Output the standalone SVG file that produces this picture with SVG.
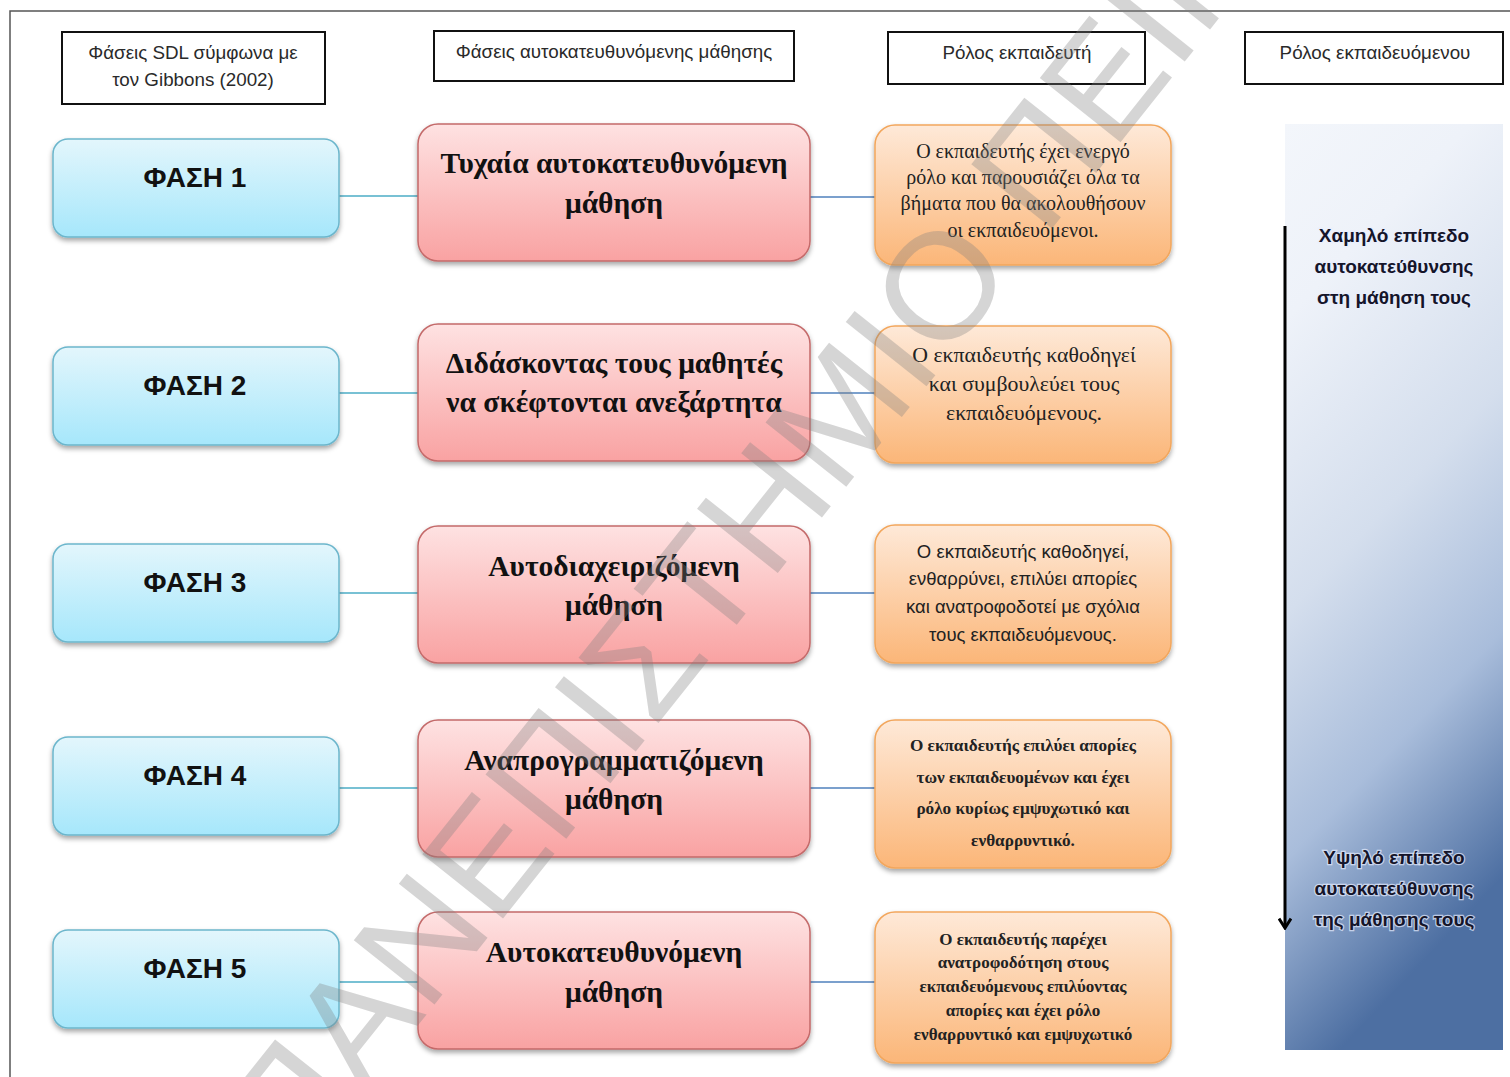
<svg xmlns="http://www.w3.org/2000/svg" width="1510" height="1077" viewBox="0 0 1510 1077">
<style>
.hdr{fill:#fff;stroke:#111;stroke-width:2}
.htx{font-family:"Liberation Sans",Arial,sans-serif;font-size:18.8px;fill:#2a2a2a;text-anchor:middle}
.blue{fill:url(#gB);stroke:#6cb6cc;stroke-width:1.5}
.red{fill:url(#gR);stroke:#c46a6a;stroke-width:1.5}
.org{fill:url(#gO);stroke:#f2a65c;stroke-width:1.5}
.ftx{font-family:"Liberation Sans",Arial,sans-serif;font-weight:bold;font-size:28px;fill:#111;text-anchor:middle}
.rtx{font-family:"Liberation Serif","Times New Roman",serif;font-weight:bold;font-size:29.5px;fill:#111;text-anchor:middle}
.os{font-family:"Liberation Serif","Times New Roman",serif;fill:#222;text-anchor:middle}
.oa{font-family:"Liberation Sans",Arial,sans-serif;fill:#222;text-anchor:middle}
.ptx{font-family:"Liberation Sans",Arial,sans-serif;font-weight:bold;font-size:19px;fill:#15152a;text-anchor:middle;stroke:#e8eeff;stroke-width:2.5;stroke-opacity:0.7;paint-order:stroke}
.c1{stroke:#4bacc6;stroke-width:1.5;fill:none}
.c2{stroke:#4f81bd;stroke-width:1.5;fill:none}
</style>
<defs>
<linearGradient id="gB" x1="0" y1="0" x2="0" y2="1"><stop offset="0" stop-color="#e3f6fc"/><stop offset="1" stop-color="#a6e7fb"/></linearGradient>
<linearGradient id="gR" x1="0" y1="0" x2="0" y2="1"><stop offset="0" stop-color="#fee2e2"/><stop offset="1" stop-color="#f9a2a2"/></linearGradient>
<linearGradient id="gO" x1="0" y1="0" x2="0" y2="1"><stop offset="0" stop-color="#fee9d8"/><stop offset="1" stop-color="#fbb678"/></linearGradient>
<linearGradient id="gP" x1="0" y1="0" x2="0.25" y2="1"><stop offset="0" stop-color="#f3f6fb"/><stop offset="0.2" stop-color="#eef2f9"/><stop offset="0.5" stop-color="#d4deed"/><stop offset="0.75" stop-color="#a9bddb"/><stop offset="1" stop-color="#4d6fa2"/></linearGradient>
<filter id="sh" x="-10%" y="-10%" width="120%" height="130%"><feDropShadow dx="0" dy="3" stdDeviation="2.5" flood-color="#000" flood-opacity="0.35"/></filter>
<marker id="ah" viewBox="0 0 13 14" refX="11" refY="7" markerWidth="13" markerHeight="14" markerUnits="userSpaceOnUse" orient="auto"><path d="M1.5,1 L11,7 L1.5,13" fill="none" stroke="#000" stroke-width="3" stroke-linejoin="miter"/></marker>
</defs>

<rect width="1510" height="1077" fill="#fff"/>
<path d="M10,1077 V11 H1510" fill="none" stroke="#555" stroke-width="1.5"/>

<!-- right panel -->
<g id="panel">
<rect x="1285" y="124" width="218" height="926" fill="url(#gP)"/>
<text class="ptx" x="1394" y="242">Χαμηλό επίπεδο</text>
<text class="ptx" x="1394" y="273">αυτοκατεύθυνσης</text>
<text class="ptx" x="1394" y="304">στη μάθηση τους</text>
<text class="ptx" x="1394" y="864">Υψηλό επίπεδο</text>
<text class="ptx" x="1394" y="895">αυτοκατεύθυνσης</text>
<text class="ptx" x="1394" y="926">της μάθησης τους</text>
</g>

<!-- headers -->
<g id="h1"><rect class="hdr" x="62" y="32" width="263" height="72"/><text class="htx" x="193" y="59">Φάσεις SDL σύμφωνα με</text><text class="htx" x="193" y="86">τον Gibbons (2002)</text></g>
<g id="h2"><rect class="hdr" x="434" y="31" width="360" height="50"/><text class="htx" x="614" y="58">Φάσεις αυτοκατευθυνόμενης μάθησης</text></g>
<g id="h3"><rect class="hdr" x="888" y="32" width="257" height="52"/><text class="htx" x="1017" y="59">Ρόλος εκπαιδευτή</text></g>
<g id="h4"><rect class="hdr" x="1245" y="32" width="258" height="52"/><text class="htx" x="1375" y="59">Ρόλος εκπαιδευόμενου</text></g>

<!-- connectors -->
<g id="connectors">
<line class="c1" x1="339" y1="196" x2="418" y2="196"/>
<line class="c2" x1="810" y1="197" x2="875" y2="197"/>
<line class="c1" x1="339" y1="393" x2="418" y2="393"/>
<line class="c2" x1="810" y1="393" x2="875" y2="393"/>
<line class="c1" x1="339" y1="593" x2="418" y2="593"/>
<line class="c2" x1="810" y1="593" x2="875" y2="593"/>
<line class="c1" x1="339" y1="788" x2="418" y2="788"/>
<line class="c2" x1="810" y1="788" x2="875" y2="788"/>
<line class="c1" x1="339" y1="982" x2="418" y2="982"/>
<line class="c2" x1="810" y1="982" x2="875" y2="982"/>
<line x1="1285" y1="226" x2="1285" y2="928" stroke="#000" stroke-width="3" marker-end="url(#ah)"/>
</g>

<!-- phase boxes -->
<g id="p1"><rect class="blue" filter="url(#sh)" x="53" y="139" width="286" height="98" rx="15"/><text class="ftx" x="195" y="187">ΦΑΣΗ 1</text></g>
<g id="p2"><rect class="blue" filter="url(#sh)" x="53" y="347" width="286" height="98" rx="15"/><text class="ftx" x="195" y="395">ΦΑΣΗ 2</text></g>
<g id="p3"><rect class="blue" filter="url(#sh)" x="53" y="544" width="286" height="98" rx="15"/><text class="ftx" x="195" y="592">ΦΑΣΗ 3</text></g>
<g id="p4"><rect class="blue" filter="url(#sh)" x="53" y="737" width="286" height="98" rx="15"/><text class="ftx" x="195" y="785">ΦΑΣΗ 4</text></g>
<g id="p5"><rect class="blue" filter="url(#sh)" x="53" y="930" width="286" height="98" rx="15"/><text class="ftx" x="195" y="978">ΦΑΣΗ 5</text></g>

<!-- learning phase boxes -->
<g id="s1"><rect class="red" filter="url(#sh)" x="418" y="124" width="392" height="137" rx="20"/><text class="rtx" x="614" y="173">Τυχαία αυτοκατευθυνόμενη</text><text class="rtx" x="614" y="213">μάθηση</text></g>
<g id="s2"><rect class="red" filter="url(#sh)" x="418" y="324" width="392" height="137" rx="20"/><text class="rtx" x="614" y="373">Διδάσκοντας τους μαθητές</text><text class="rtx" x="614" y="412">να σκέφτονται ανεξάρτητα</text></g>
<g id="s3"><rect class="red" filter="url(#sh)" x="418" y="526" width="392" height="137" rx="20"/><text class="rtx" x="614" y="576">Αυτοδιαχειριζόμενη</text><text class="rtx" x="614" y="615">μάθηση</text></g>
<g id="s4"><rect class="red" filter="url(#sh)" x="418" y="720" width="392" height="137" rx="20"/><text class="rtx" x="614" y="770">Αναπρογραμματιζόμενη</text><text class="rtx" x="614" y="809">μάθηση</text></g>
<g id="s5"><rect class="red" filter="url(#sh)" x="418" y="912" width="392" height="137" rx="20"/><text class="rtx" x="614" y="962">Αυτοκατευθυνόμενη</text><text class="rtx" x="614" y="1002">μάθηση</text></g>

<!-- teacher role boxes -->
<g id="t1"><rect class="org" filter="url(#sh)" x="875" y="125" width="296" height="140" rx="20"/>
<text class="os" font-size="20" x="1023" y="158">Ο εκπαιδευτής έχει ενεργό</text>
<text class="os" font-size="20" x="1023" y="184">ρόλο και παρουσιάζει όλα τα</text>
<text class="os" font-size="20" x="1023" y="210">βήματα που θα ακολουθήσουν</text>
<text class="os" font-size="20" x="1023" y="237">οι εκπαιδευόμενοι.</text></g>
<g id="t2"><rect class="org" filter="url(#sh)" x="875" y="326" width="296" height="137" rx="20"/>
<text class="os" font-size="21.8" x="1024" y="362">Ο εκπαιδευτής καθοδηγεί</text>
<text class="os" font-size="21.8" x="1024" y="391">και συμβουλεύει τους</text>
<text class="os" font-size="21.8" x="1024" y="420">εκπαιδευόμενους.</text></g>
<g id="t3"><rect class="org" filter="url(#sh)" x="875" y="525" width="296" height="138" rx="20"/>
<text class="oa" font-size="18.5" x="1023" y="558">Ο εκπαιδευτής καθοδηγεί,</text>
<text class="oa" font-size="18.5" x="1023" y="585">ενθαρρύνει, επιλύει απορίες</text>
<text class="oa" font-size="18.5" x="1023" y="613">και ανατροφοδοτεί με σχόλια</text>
<text class="oa" font-size="18.5" x="1023" y="641">τους εκπαιδευόμενους.</text></g>
<g id="t4"><rect class="org" filter="url(#sh)" x="875" y="720" width="296" height="148" rx="20"/>
<text class="os" font-size="17.2" font-weight="bold" x="1023" y="751">Ο εκπαιδευτής επιλύει απορίες</text>
<text class="os" font-size="17.2" font-weight="bold" x="1023" y="783">των εκπαιδευομένων και έχει</text>
<text class="os" font-size="17.2" font-weight="bold" x="1023" y="814">ρόλο κυρίως εμψυχωτικό και</text>
<text class="os" font-size="17.2" font-weight="bold" x="1023" y="846">ενθαρρυντικό.</text></g>
<g id="t5"><rect class="org" filter="url(#sh)" x="875" y="912" width="296" height="151" rx="20"/>
<text class="os" font-size="17" font-weight="bold" x="1023" y="945">Ο εκπαιδευτής παρέχει</text>
<text class="os" font-size="17" font-weight="bold" x="1023" y="968">ανατροφοδότηση στους</text>
<text class="os" font-size="17" font-weight="bold" x="1023" y="992">εκπαιδευόμενους επιλύοντας</text>
<text class="os" font-size="17" font-weight="bold" x="1023" y="1016">απορίες και έχει ρόλο</text>
<text class="os" font-size="17" font-weight="bold" x="1023" y="1040">ενθαρρυντικό και εμψυχωτικό</text></g>

<!-- watermark -->
<text transform="translate(295,1180) rotate(-51.5)" font-family="Liberation Sans,Arial,sans-serif" font-size="150" fill="#808080" fill-opacity="0.33" textLength="1900" lengthAdjust="spacingAndGlyphs">ΠΑΝΕΠΙΣΤΗΜΙΟ ΠΕΙΡΑΙΩΣ</text>
</svg>
